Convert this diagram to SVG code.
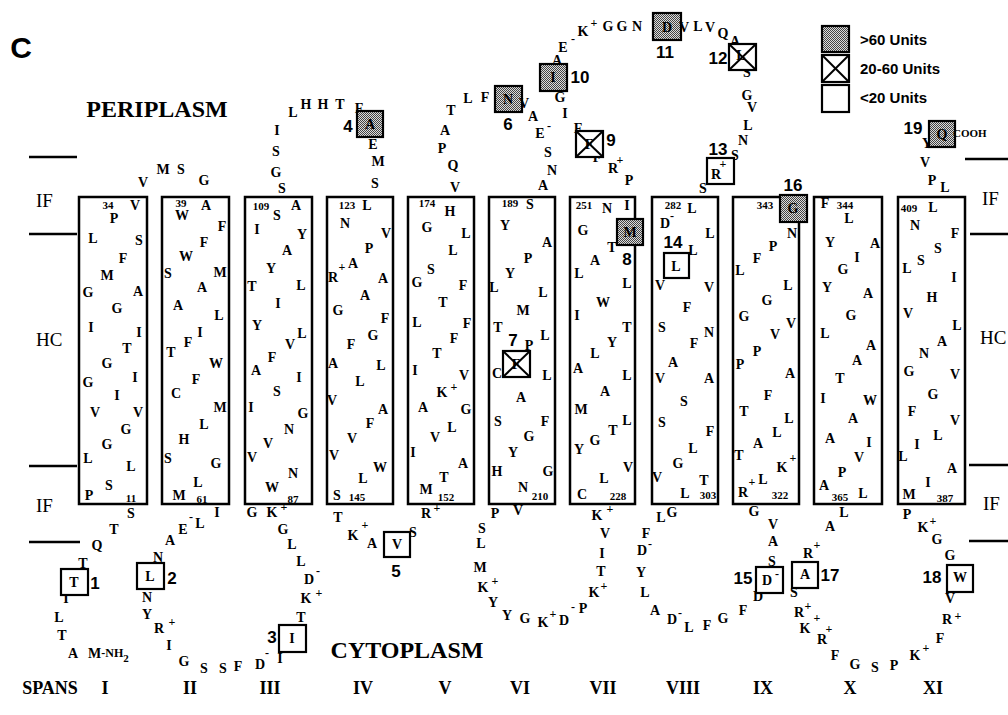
<svg xmlns="http://www.w3.org/2000/svg" width="1008" height="715" viewBox="0 0 1008 715">
<defs>
<pattern id="stip" patternUnits="userSpaceOnUse" width="2" height="2">
<rect width="2" height="2" fill="#dcdcdc"/><rect width="1" height="1" fill="#444"/><rect x="1" y="1" width="1" height="1" fill="#444"/>
</pattern>
<style>
text{dominant-baseline:central;text-anchor:middle;font-family:'Liberation Serif','Times New Roman',serif;fill:#000}
.r{font-size:14px;font-weight:bold}
.s{font-size:11px;font-weight:bold}
.q{font-size:12px;font-weight:bold}
.n{font-family:'Liberation Sans',Arial,sans-serif;font-size:17px;font-weight:bold}
.helix{fill:none;stroke:#000;stroke-width:2.5}
.rb{fill:#fff;stroke:#000;stroke-width:2.2}
.sh{fill:url(#stip);stroke:#000;stroke-width:2.2}
.x{stroke:#000;stroke-width:2}
.mem{stroke:#000;stroke-width:2.5}
.zone{font-size:19px;text-anchor:start}
.big{font-size:24px;font-weight:bold}
.sp{font-size:18px;font-weight:bold}
.leg{font-family:'Liberation Sans',Arial,sans-serif;font-size:15px;font-weight:bold;text-anchor:start}
</style>
</defs>
<rect width="1008" height="715" fill="#fff"/>

<g id="connectors">
<line class="mem" x1="29" y1="157" x2="77" y2="157"/>
<line class="mem" x1="29" y1="234" x2="77" y2="234"/>
<line class="mem" x1="29" y1="466" x2="77" y2="466"/>
<line class="mem" x1="29" y1="542" x2="80" y2="542"/>
<line class="mem" x1="965" y1="159" x2="1008" y2="159"/>
<line class="mem" x1="970" y1="234" x2="1008" y2="234"/>
<line class="mem" x1="969" y1="465" x2="1008" y2="465"/>
<line class="mem" x1="969" y1="541" x2="1008" y2="541"/>
</g>

<g id="labels">
<text x="21" y="47" style="font-family:'Liberation Sans',Arial,sans-serif;font-size:30px;font-weight:bold">C</text>
<text class="big" x="157" y="109">PERIPLASM</text>
<text class="big" x="407" y="650">CYTOPLASM</text>
<text class="zone" x="36" y="200">IF</text>
<text class="zone" x="36" y="339">HC</text>
<text class="zone" x="36" y="505">IF</text>
<text class="zone" x="982" y="198">IF</text>
<text class="zone" x="980" y="337">HC</text>
<text class="zone" x="983" y="503">IF</text>
<g class="sp">
<text x="50" y="688">SPANS</text>
<text x="105" y="688">I</text><text x="190" y="688">II</text><text x="270" y="688">III</text>
<text x="363" y="688">IV</text><text x="445" y="688">V</text><text x="520" y="688">VI</text>
<text x="603" y="688">VII</text><text x="683" y="688">VIII</text><text x="763" y="688">IX</text>
<text x="850" y="688">X</text><text x="933" y="688">XI</text>
</g>
</g>

<g id="legend">
<rect class="sh" x="822" y="26" width="27" height="26"/>
<rect class="rb" x="822" y="55" width="27" height="27"/>
<line class="x" x1="822" y1="55" x2="849" y2="82"/><line class="x" x1="849" y1="55" x2="822" y2="82"/>
<rect class="rb" x="822" y="85" width="27" height="27"/>
<text class="leg" x="860" y="39">&gt;60 Units</text>
<text class="leg" x="860" y="68">20-60 Units</text>
<text class="leg" x="860" y="97">&lt;20 Units</text>
</g>

<g id="span-I">
<rect class="helix" x="79" y="197" width="68" height="307"/>
<g class="r">
<text x="135" y="205">V</text><text x="114" y="218">P</text><text x="93" y="238">L</text><text x="139" y="240">S</text>
<text x="123" y="258">F</text><text x="107" y="275">M</text><text x="88" y="292">G</text><text x="138" y="291">A</text>
<text x="117" y="308">G</text><text x="91" y="327">I</text><text x="139" y="332">I</text><text x="127" y="348">T</text>
<text x="107" y="363">G</text><text x="135" y="377">I</text><text x="88" y="382">G</text><text x="117" y="395">I</text>
<text x="95" y="412">V</text><text x="138" y="412">V</text><text x="126" y="429">G</text><text x="107" y="444">G</text>
<text x="88" y="458">L</text><text x="131" y="466">L</text><text x="109" y="485">S</text><text x="89" y="495">P</text>
</g>
<g class="s"><text x="108" y="205">34</text><text x="131" y="498">11</text></g>
</g>

<g id="span-II">
<rect class="helix" x="162" y="197" width="67" height="307"/>
<g class="r">
<text x="182" y="215">W</text><text x="206" y="205">A</text><text x="222" y="226">F</text><text x="204" y="242">F</text>
<text x="186" y="256">W</text><text x="168" y="273">S</text><text x="220" y="272">M</text><text x="202" y="287">A</text>
<text x="178" y="305">A</text><text x="219" y="315">L</text><text x="200" y="332">I</text><text x="188" y="342">F</text>
<text x="171" y="352">T</text><text x="216" y="363">W</text><text x="196" y="379">F</text><text x="176" y="393">C</text>
<text x="220" y="407">M</text><text x="204" y="424">L</text><text x="184" y="439">H</text><text x="168" y="458">S</text>
<text x="216" y="463">G</text><text x="198" y="482">L</text><text x="179" y="495">M</text>
</g>
<g class="s"><text x="181" y="203">39</text><text x="202" y="499">61</text></g>
</g>

<g id="span-III">
<rect class="helix" x="245" y="197" width="67" height="307"/>
<g class="r">
<text x="296" y="205">A</text><text x="277" y="215">S</text><text x="257" y="229">I</text><text x="302" y="234">Y</text>
<text x="287" y="250">A</text><text x="271" y="268">Y</text><text x="252" y="286">T</text><text x="301" y="285">L</text>
<text x="278" y="303">I</text><text x="257" y="325">Y</text><text x="302" y="333">L</text><text x="290" y="344">V</text>
<text x="272" y="357">F</text><text x="256" y="370">A</text><text x="299" y="377">I</text><text x="277" y="391">S</text>
<text x="251" y="407">I</text><text x="303" y="413">G</text><text x="289" y="429">N</text><text x="268" y="443">V</text>
<text x="252" y="457">V</text><text x="293" y="473">N</text><text x="272" y="487">W</text>
</g>
<g class="s"><text x="261" y="206">109</text><text x="293" y="499">87</text></g>
</g>

<g id="span-IV">
<rect class="helix" x="327" y="197" width="66" height="307"/>
<g class="r">
<text x="367" y="205">L</text><text x="345" y="223">N</text><text x="386" y="233">V</text><text x="369" y="248">P</text>
<text x="353" y="263">A</text><text x="333" y="277">R</text><text x="383" y="278">A</text><text x="365" y="295">A</text>
<text x="338" y="310">G</text><text x="385" y="318">F</text><text x="373" y="335">G</text><text x="351" y="344">F</text>
<text x="333" y="363">A</text><text x="381" y="365">L</text><text x="360" y="381">L</text><text x="332" y="400">V</text>
<text x="383" y="409">A</text><text x="370" y="423">F</text><text x="352" y="438">V</text><text x="334" y="455">V</text>
<text x="380" y="467">W</text><text x="363" y="478">L</text><text x="337" y="495">S</text>
</g>
<g class="q"><text x="342" y="267">+</text></g>
<g class="s"><text x="347" y="205">123</text><text x="357" y="497">145</text></g>
</g>

<g id="span-V">
<rect class="helix" x="408" y="197" width="66" height="307"/>
<g class="r">
<text x="450" y="211">H</text><text x="427" y="227">G</text><text x="466" y="233">L</text><text x="453" y="250">L</text>
<text x="431" y="269">S</text><text x="417" y="282">G</text><text x="463" y="285">F</text><text x="443" y="302">T</text>
<text x="417" y="322">L</text><text x="467" y="323">F</text><text x="454" y="338">F</text><text x="437" y="353">T</text>
<text x="415" y="370">I</text><text x="464" y="375">V</text><text x="442" y="392">K</text><text x="423" y="407">A</text>
<text x="466" y="409">G</text><text x="452" y="427">L</text><text x="435" y="437">V</text><text x="413" y="452">I</text>
<text x="463" y="463">A</text><text x="444" y="477">T</text><text x="426" y="489">M</text>
</g>
<g class="q"><text x="454" y="387">+</text></g>
<g class="s"><text x="427" y="203">174</text><text x="446" y="497">152</text></g>
</g>

<g id="span-VI">
<rect class="helix" x="489" y="197" width="66" height="307"/>
<g class="r">
<text x="530" y="204">S</text><text x="505" y="225">Y</text><text x="547" y="242">A</text><text x="528" y="258">P</text>
<text x="510" y="273">Y</text><text x="494" y="287">L</text><text x="543" y="292">L</text><text x="523" y="310">M</text>
<text x="498" y="327">T</text><text x="545" y="335">L</text><text x="529" y="345">P</text><text x="497" y="373">C</text>
<text x="547" y="375">L</text><text x="521" y="397">A</text><text x="498" y="421">S</text><text x="545" y="421">F</text>
<text x="529" y="436">G</text><text x="513" y="452">Y</text><text x="497" y="471">H</text><text x="548" y="471">G</text>
<text x="523" y="487">N</text>
</g>
<g class="s"><text x="510" y="203">189</text><text x="540" y="496">210</text></g>
<rect class="rb" x="503" y="351" width="27" height="26"/>
<text class="r" x="516" y="364">F</text>
<line class="x" x1="503" y1="351" x2="530" y2="377"/><line class="x" x1="530" y1="351" x2="503" y2="377"/>
<text class="n" x="513" y="340">7</text>
</g>

<g id="span-VII">
<rect class="helix" x="570" y="197" width="65" height="307"/>
<g class="r">
<text x="607" y="208">N</text><text x="627" y="205">I</text><text x="583" y="230">G</text><text x="612" y="247">T</text>
<text x="595" y="260">A</text><text x="579" y="273">L</text><text x="627" y="283">L</text><text x="603" y="302">W</text>
<text x="577" y="315">I</text><text x="627" y="327">T</text><text x="612" y="342">Y</text><text x="595" y="353">L</text>
<text x="578" y="368">A</text><text x="627" y="375">L</text><text x="605" y="391">A</text><text x="581" y="409">M</text>
<text x="627" y="420">L</text><text x="613" y="430">T</text><text x="595" y="440">G</text><text x="579" y="449">Y</text>
<text x="628" y="467">V</text><text x="604" y="478">L</text><text x="582" y="494">C</text>
</g>
<g class="s"><text x="584" y="205">251</text><text x="618" y="496">228</text></g>
<rect class="sh" x="617" y="219" width="26" height="26"/>
<text class="r" x="630" y="232">M</text>
<text class="n" x="627" y="259">8</text>
</g>

<g id="span-VIII">
<rect class="helix" x="652" y="197" width="66" height="307"/>
<g class="r">
<text x="692" y="208">L</text><text x="665" y="223">D</text><text x="710" y="233">L</text><text x="693" y="250">L</text>
<text x="660" y="285">V</text><text x="709" y="287">V</text><text x="687" y="307">F</text><text x="662" y="327">S</text>
<text x="709" y="332">N</text><text x="694" y="343">F</text><text x="673" y="362">A</text><text x="660" y="378">V</text>
<text x="709" y="378">A</text><text x="684" y="401">S</text><text x="662" y="422">S</text><text x="710" y="431">F</text>
<text x="693" y="448">L</text><text x="678" y="463">G</text><text x="657" y="477">V</text><text x="704" y="480">T</text>
<text x="685" y="493">L</text>
</g>
<g class="q"><text x="672" y="216">-</text></g>
<g class="s"><text x="673" y="205">282</text><text x="708" y="495">303</text></g>
<rect class="rb" x="664" y="253" width="25" height="25"/>
<text class="r" x="676" y="266">L</text>
<text class="n" x="673" y="242">14</text>
</g>

<g id="span-IX">
<rect class="helix" x="733" y="197" width="66" height="307"/>
<g class="r">
<text x="792" y="233">N</text><text x="773" y="246">P</text><text x="757" y="258">F</text><text x="740" y="270">L</text>
<text x="788" y="285">L</text><text x="767" y="300">G</text><text x="744" y="316">G</text><text x="791" y="323">V</text>
<text x="775" y="334">V</text><text x="757" y="351">P</text><text x="740" y="364">P</text><text x="790" y="373">A</text>
<text x="768" y="395">F</text><text x="744" y="411">T</text><text x="789" y="418">L</text><text x="777" y="432">L</text>
<text x="758" y="443">A</text><text x="739" y="455">T</text><text x="782" y="467">K</text><text x="763" y="479">L</text>
<text x="743" y="492">R</text>
</g>
<g class="q"><text x="793" y="458">+</text><text x="752" y="482">+</text></g>
<g class="s"><text x="765" y="205">343</text><text x="780" y="495">322</text></g>
<rect class="sh" x="780" y="195" width="27" height="27"/>
<text class="r" x="793" y="208">G</text>
<text class="n" x="793" y="185">16</text>
</g>

<g id="span-X">
<rect class="helix" x="814" y="197" width="68" height="307"/>
<g class="r">
<text x="825" y="203">F</text><text x="849" y="218">L</text><text x="830" y="242">Y</text><text x="875" y="243">A</text>
<text x="857" y="257">I</text><text x="843" y="269">G</text><text x="827" y="287">Y</text><text x="868" y="293">A</text>
<text x="851" y="315">G</text><text x="825" y="333">L</text><text x="871" y="345">A</text><text x="857" y="360">A</text>
<text x="840" y="378">T</text><text x="823" y="398">I</text><text x="870" y="400">W</text><text x="853" y="418">A</text>
<text x="830" y="438">A</text><text x="869" y="442">I</text><text x="859" y="457">V</text><text x="842" y="472">P</text>
<text x="824" y="485">A</text><text x="863" y="493">L</text>
</g>
<g class="s"><text x="845" y="205">344</text><text x="840" y="497">365</text></g>
</g>

<g id="span-XI">
<rect class="helix" x="898" y="197" width="67" height="307"/>
<g class="r">
<text x="933" y="207">L</text><text x="915" y="225">N</text><text x="955" y="233">F</text><text x="938" y="248">S</text>
<text x="921" y="260">S</text><text x="907" y="268">L</text><text x="954" y="277">I</text><text x="932" y="297">H</text>
<text x="908" y="313">V</text><text x="957" y="325">L</text><text x="942" y="341">A</text><text x="924" y="353">N</text>
<text x="909" y="371">G</text><text x="955" y="374">V</text><text x="933" y="394">G</text><text x="912" y="411">F</text>
<text x="955" y="420">V</text><text x="938" y="435">L</text><text x="917" y="444">I</text><text x="903" y="456">L</text>
<text x="952" y="468">A</text><text x="928" y="482">I</text><text x="909" y="494">M</text>
</g>
<g class="s"><text x="909" y="208">409</text><text x="945" y="498">387</text></g>
</g>

<g id="loop-N-terminus">
<g class="r">
<text x="131" y="513">S</text><text x="114" y="529">T</text><text x="97" y="545">Q</text><text x="83" y="563">T</text>
<text x="66" y="598">I</text><text x="59" y="617">L</text><text x="62" y="635">T</text><text x="73" y="653">A</text>
<text x="88" y="653" style="text-anchor:start">M<tspan style="font-size:12px">-NH</tspan><tspan style="font-size:11px" dy="5">2</tspan></text>
</g>
<rect class="rb" x="61" y="569" width="27" height="26"/>
<text class="r" x="74" y="582">T</text>
<text class="n" x="95" y="583">1</text>
</g>

<g id="loop-I-II">
<g class="r"><text x="143" y="182">V</text><text x="163" y="169">M</text><text x="181" y="169">S</text><text x="204" y="180">G</text></g>
</g>

<g id="loop-II-III">
<g class="r">
<text x="217" y="512">I</text><text x="200" y="523">L</text><text x="183" y="529">E</text><text x="170" y="540">A</text>
<text x="158" y="557">N</text><text x="147" y="597">N</text><text x="147" y="614">Y</text><text x="159" y="628">R</text>
<text x="169" y="645">I</text><text x="184" y="661">G</text><text x="204" y="668">S</text><text x="223" y="668">S</text>
<text x="238" y="666">F</text><text x="260" y="664">D</text><text x="280" y="658">I</text><text x="301" y="617">T</text>
<text x="306" y="598">K</text><text x="309" y="579">D</text><text x="301" y="561">L</text><text x="292" y="544">L</text>
<text x="283" y="529">G</text><text x="272" y="512">K</text><text x="252" y="512">G</text>
</g>
<g class="q">
<text x="191" y="517">-</text><text x="172" y="622">+</text><text x="267" y="653">-</text><text x="319" y="593">+</text>
<text x="318" y="571">-</text><text x="284" y="507">+</text>
</g>
<rect class="rb" x="137" y="563" width="27" height="26"/>
<text class="r" x="150" y="576">L</text>
<text class="n" x="172" y="578">2</text>
<rect class="rb" x="279" y="625" width="27" height="27"/>
<text class="r" x="292" y="638">I</text>
<text class="n" x="272" y="637">3</text>
</g>

<g id="loop-III-IV">
<g class="r">
<text x="282" y="188">S</text><text x="276" y="172">G</text><text x="276" y="151">S</text><text x="277" y="130">I</text>
<text x="293" y="112">L</text><text x="306" y="104">H</text><text x="323" y="104">H</text><text x="340" y="104">T</text>
<text x="359" y="108">F</text><text x="373" y="144">E</text><text x="378" y="161">M</text><text x="375" y="183">S</text>
</g>
<rect class="sh" x="357" y="111" width="26" height="26"/>
<text class="r" x="370" y="124">A</text>
<text class="n" x="348" y="126">4</text>
</g>

<g id="loop-IV-V">
<g class="r">
<text x="338" y="517">T</text><text x="353" y="535">K</text><text x="372" y="543">A</text><text x="413" y="532">S</text>
<text x="426" y="513">R</text>
</g>
<g class="q"><text x="365" y="525">+</text><text x="437" y="508">+</text></g>
<rect class="rb" x="384" y="532" width="26" height="25"/>
<text class="r" x="397" y="544">V</text>
<text class="n" x="396" y="571">5</text>
</g>

<g id="loop-V-VI">
<g class="r">
<text x="455" y="187">V</text><text x="453" y="165">Q</text><text x="442" y="148">P</text><text x="445" y="130">A</text>
<text x="451" y="110">T</text><text x="468" y="98">L</text><text x="485" y="97">F</text><text x="533" y="116">A</text>
<text x="540" y="133">E</text><text x="548" y="152">S</text><text x="552" y="170">N</text><text x="543" y="185">A</text>
</g>
<g class="q"><text x="549" y="126">-</text></g>
<rect class="sh" x="495" y="86" width="27" height="26"/>
<text class="r" x="508" y="99">N</text>
<text class="r" x="524" y="103">V</text>
<text class="n" x="508" y="124">6</text>
</g>

<g id="loop-VI-VII">
<g class="r">
<text x="495" y="513">P</text><text x="518" y="510">V</text><text x="482" y="528">S</text><text x="481" y="543">L</text>
<text x="480" y="567">M</text><text x="483" y="587">K</text><text x="493" y="602">Y</text><text x="507" y="615">Y</text>
<text x="525" y="618">G</text><text x="543" y="622">K</text><text x="564" y="620">D</text><text x="583" y="608">P</text>
<text x="594" y="592">K</text><text x="601" y="571">T</text><text x="602" y="553">I</text><text x="605" y="533">V</text>
<text x="597" y="515">K</text>
</g>
<g class="q">
<text x="495" y="581">+</text><text x="553" y="614">+</text><text x="573" y="607">-</text><text x="604" y="586">+</text>
<text x="610" y="509">+</text>
</g>
</g>

<g id="loop-VII-VIII">
<g class="r">
<text x="629" y="180">P</text><text x="613" y="168">R</text><text x="597" y="157">F</text><text x="578" y="128">F</text>
<text x="565" y="113">I</text><text x="560" y="97">G</text><text x="557" y="60">A</text><text x="563" y="47">E</text>
<text x="583" y="31">K</text><text x="608" y="26">G</text><text x="622" y="26">G</text><text x="637" y="26">N</text>
<text x="698" y="26">L</text><text x="710" y="27">V</text><text x="723" y="33">Q</text><text x="735" y="41">A</text>
<text x="747" y="72">S</text><text x="747" y="95">G</text><text x="752" y="107">V</text><text x="748" y="125">L</text>
<text x="743" y="140">N</text><text x="735" y="155">S</text><text x="703" y="188">S</text>
</g>
<g class="q"><text x="620" y="160">+</text><text x="573" y="39">-</text><text x="594" y="23">+</text></g>
<rect class="rb" x="576" y="131" width="27" height="26"/>
<text class="r" x="589" y="144">F</text>
<line class="x" x1="576" y1="131" x2="603" y2="157"/><line class="x" x1="603" y1="131" x2="576" y2="157"/>
<text class="n" x="611" y="140">9</text>
<rect class="sh" x="540" y="64" width="27" height="27"/>
<text class="r" x="553" y="77">I</text>
<text class="n" x="580" y="77">10</text>
<rect class="sh" x="653" y="13" width="28" height="27"/>
<text class="r" x="667" y="27">D</text>
<text class="r" x="684" y="27">V</text>
<text class="n" x="665" y="52">11</text>
<rect class="rb" x="729" y="44" width="27" height="26"/>
<text class="r" x="741" y="55">L</text>
<line class="x" x1="729" y1="44" x2="756" y2="70"/><line class="x" x1="756" y1="44" x2="729" y2="70"/>
<text class="n" x="718" y="58">12</text>
<rect class="rb" x="707" y="158" width="27" height="26"/>
<text class="r" x="716" y="174">R</text>
<text class="q" x="723" y="164">+</text>
<text class="n" x="718" y="149">13</text>
</g>

<g id="loop-VIII-IX">
<g class="r">
<text x="661" y="517">L</text><text x="672" y="512">G</text><text x="646" y="533">F</text><text x="642" y="550">D</text>
<text x="641" y="572">Y</text><text x="645" y="592">L</text><text x="655" y="610">A</text><text x="672" y="619">D</text>
<text x="689" y="627">L</text><text x="707" y="625">F</text><text x="723" y="618">G</text><text x="743" y="610">F</text>
<text x="758" y="596">D</text><text x="772" y="561">S</text><text x="773" y="541">A</text><text x="773" y="524">V</text>
<text x="754" y="511">G</text>
</g>
<g class="q"><text x="650" y="544">-</text><text x="680" y="613">-</text><text x="770" y="589">-</text></g>
<rect class="rb" x="756" y="567" width="27" height="26"/>
<text class="r" x="767" y="580">D</text>
<text class="q" x="777" y="574">-</text>
<text class="n" x="743" y="578">15</text>
</g>

<g id="loop-X-XI">
<g class="r">
<text x="844" y="512">L</text><text x="830" y="526">A</text><text x="808" y="553">R</text><text x="794" y="592">S</text>
<text x="799" y="612">R</text><text x="805" y="628">K</text><text x="822" y="639">R</text><text x="835" y="655">F</text>
<text x="855" y="664">G</text><text x="875" y="667">S</text><text x="894" y="665">P</text><text x="915" y="655">K</text>
<text x="940" y="638">F</text><text x="947" y="619">R</text><text x="950" y="598">V</text><text x="950" y="555">G</text>
<text x="937" y="539">G</text><text x="923" y="527">K</text><text x="907" y="514">P</text>
</g>
<g class="q">
<text x="817" y="545">+</text><text x="808" y="606">+</text><text x="817" y="618">+</text><text x="829" y="629">+</text>
<text x="926" y="648">+</text><text x="958" y="616">+</text><text x="933" y="521">+</text>
</g>
<rect class="rb" x="792" y="562" width="26" height="26"/>
<text class="r" x="805" y="574">A</text>
<text class="n" x="830" y="575">17</text>
<rect class="rb" x="947" y="565" width="26" height="27"/>
<text class="r" x="960" y="577">W</text>
<text class="n" x="932" y="577">18</text>
</g>

<g id="loop-C-terminus">
<g class="r">
<text x="945" y="187">L</text><text x="932" y="180">P</text><text x="925" y="162">V</text><text x="927" y="143">Y</text>
</g>
<rect class="sh" x="929" y="121" width="26" height="26"/>
<text class="r" x="942" y="134">Q</text>
<text class="s" x="953" y="133" style="text-anchor:start">COOH</text>
<text class="n" x="913" y="128">19</text>
</g>
</svg>
